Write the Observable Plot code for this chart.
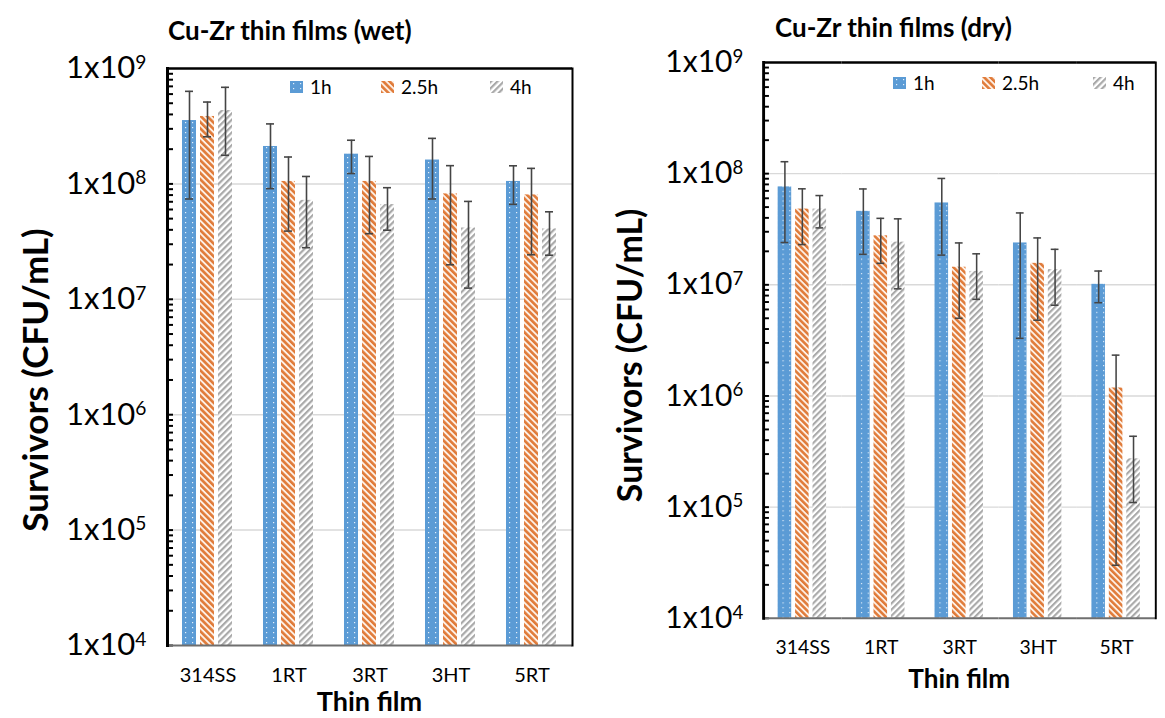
<!DOCTYPE html>
<html><head><meta charset="utf-8">
<script src="https://cdn.jsdelivr.net/npm/d3@7"></script>
<script src="https://cdn.jsdelivr.net/npm/@observablehq/plot@0.6"></script>
<style>
body{margin:0;width:1165px;height:718px;overflow:hidden;background:#fff;font-family:Lato,sans-serif;position:relative}
.panel{position:absolute;top:0}
.title{position:absolute;font-weight:bold;font-size:26px;color:#000;white-space:nowrap;line-height:1}
.legend{position:absolute;font-size:19px;color:#000;white-space:nowrap}
.legend span.item{position:absolute;display:flex;align-items:center;line-height:1}
.legend svg{margin-right:7px}
</style></head>
<body>
<svg width="0" height="0" style="position:absolute">
  <defs>
    <pattern id="pat-1h" patternUnits="userSpaceOnUse" width="7" height="5">
      <rect width="7" height="5" fill="#5b9bd5"/>
      <rect x="3" y="2" width="1.2" height="1.2" fill="#e4effa"/>
    </pattern>
    <pattern id="pat-2_5h" patternUnits="userSpaceOnUse" width="4.5" height="4.5" patternTransform="rotate(-45)">
      <rect width="4.5" height="4.5" fill="#fdf0e6"/>
      <rect width="2.6" height="4.5" fill="#e07b39"/>
    </pattern>
    <pattern id="pat-4h" patternUnits="userSpaceOnUse" width="4.5" height="4.5" patternTransform="rotate(45)">
      <rect width="4.5" height="4.5" fill="#ffffff"/>
      <rect width="2.2" height="4.5" fill="#a9a9a9"/>
    </pattern>
  </defs>
</svg>
<div id="left" class="panel" style="left:0"></div>
<div id="right" class="panel" style="left:583px"></div>
<div class="title" style="left:168px;top:17px">Cu-Zr thin films (wet)</div>
<div class="title" style="left:775px;top:14px">Cu-Zr thin films (dry)</div>
<div id="legL" class="legend"></div>
<div id="legR" class="legend"></div>
<script>
// ---- data ----
const films = ["314SS", "1RT", "3RT", "3HT", "5RT"];
const times = ["1h", "2.5h", "4h"];
const yTicks = [1e4, 1e5, 1e6, 1e7, 1e8, 1e9];
const yLabel = "Survivors (CFU/mL)";
const xLabel = "Thin film";

// wet (CFU/mL) means and error (± sd)
const wet1h     = [3.54e8, 2.11e8, 1.81e8, 1.61e8, 1.05e8];
const wet2_5h   = [3.84e8, 1.05e8, 1.05e8, 8.19e7, 8.03e7];
const wet4h     = [4.32e8, 7.2e7, 6.62e7, 4.15e7, 4.07e7];
const wet1hErr  = [2.8e8, 1.2e8, 5.8e7, 8.7e7, 3.85e7];
const wet2_5hErr= [1.28e8, 6.6e7, 6.8e7, 6.2e7, 5.6e7];
const wet4hErr  = [2.55e8, 4.4e7, 2.65e7, 2.9e7, 1.66e7];

// dry
const dry1h     = [7.6e7, 4.58e7, 5.45e7, 2.38e7, 1.01e7];
const dry2_5h   = [4.8e7, 2.76e7, 1.44e7, 1.56e7, 1.18e6];
const dry4h     = [4.8e7, 2.42e7, 1.32e7, 1.37e7, 2.72e5];
const dry1hErr  = [5.2e7, 2.7e7, 3.6e7, 2.05e7, 3.2e6];
const dry2_5hErr= [2.5e7, 1.2e7, 9.4e6, 1.08e7, 1.15e6];
const dry4hErr  = [1.55e7, 1.5e7, 5.8e6, 7.15e6, 1.62e5];

const patId = t => "pat-" + t.replace(".", "_");
const minorTicks = d3.range(4, 9).flatMap(e => d3.range(1, 10).map(k => k * Math.pow(10, e)));

function makeChart(means, errs, o) {
  const rows = [];
  films.forEach((f, i) => times.forEach((t, j) => rows.push({film: f, time: t, mean: means[j][i], err: errs[j][i]})));
  const plotW = o.width - o.ml - o.mr;
  const facetW = plotW / films.length;
  const plot = Plot.plot({
    width: o.width, height: 718,
    marginLeft: o.ml, marginRight: o.mr, marginTop: o.mt, marginBottom: o.mb,
    style: {fontFamily: "Lato, sans-serif", background: "transparent", color: "#000", overflow: "visible"},
    fx: {domain: films, padding: 0, label: null},
    x: {domain: times, paddingInner: 0.22, paddingOuter: 0.86, axis: null},
    y: {type: "log", domain: [1e4, 1e9], axis: null},
    color: {domain: times, range: times.map(t => `url(#${patId(t)})`)},
    marks: [
      Plot.gridY(yTicks.slice(1, -1), {stroke: "#d9d9d9", strokeOpacity: 1, strokeWidth: 1.5}),
      Plot.barY(rows, {fx: "film", x: "time", y1: 1e4, y2: "mean", fill: "time"}),
      Plot.ruleX(rows, {fx: "film", x: "time", y1: d => d.mean - d.err, y2: d => d.mean + d.err, stroke: "#454545", strokeWidth: 1.6}),
      Plot.tickY(rows, {fx: "film", x: "time", y: d => d.mean + d.err, stroke: "#454545", strokeWidth: 1.6, insetLeft: 3, insetRight: 3}),
      Plot.tickY(rows, {fx: "film", x: "time", y: d => d.mean - d.err, stroke: "#454545", strokeWidth: 1.6, insetLeft: 3, insetRight: 3}),
      Plot.ruleY(minorTicks, {y: d => d, facetAnchor: "left", insetRight: facetW - 6, stroke: "#000", strokeWidth: 2}),
      Plot.ruleY([1e9], {stroke: "#000", strokeWidth: 2.5}),
      Plot.ruleY([1e4], {stroke: "#6f6f6f", strokeWidth: 2}),
      Plot.frame({anchor: "left", facetAnchor: "left", stroke: "#000", strokeWidth: 3}),
      Plot.frame({anchor: "right", facetAnchor: "right", stroke: "#000", strokeWidth: 2}),
      Plot.axisY({anchor: "left", ticks: yTicks, tickSize: 0, tickPadding: o.tp, fontSize: 31,
        tickFormat: d => "1x10" + Math.round(Math.log10(d)), label: null}),
      Plot.axisFx({anchor: "bottom", tickSize: 0, tickPadding: o.xp, fontSize: 20, label: null})
    ]
  });
  const svg = d3.select(plot);
  // superscript exponents
  svg.selectAll('g[aria-label="y-axis tick label"] text').each(function() {
    const s = this.textContent;
    if (!s.startsWith("1x10")) return;
    const exp = s.slice(4);
    this.textContent = "";
    const el = d3.select(this);
    el.append("tspan").text("1x10");
    el.append("tspan").attr("dy", "-0.5em").attr("font-size", "0.62em").text(exp);
  });
  // axis titles
  svg.append("text")
    .attr("transform", `translate(${o.ylx},${o.yly}) rotate(-90)`)
    .attr("text-anchor", "middle").attr("dy", "0.35em")
    .attr("font-family", "Lato, sans-serif").attr("font-weight", "bold").attr("font-size", 35)
    .text(yLabel);
  svg.append("text")
    .attr("transform", `translate(${o.ml + plotW / 2},${o.xly})`)
    .attr("text-anchor", "middle").attr("dy", "0.35em")
    .attr("font-family", "Lato, sans-serif").attr("font-weight", "bold").attr("font-size", 27)
    .text(xLabel);
  return plot;
}

document.getElementById("left").append(makeChart([wet1h, wet2_5h, wet4h], [wet1hErr, wet2_5hErr, wet4hErr],
  {width: 583, ml: 167, mr: 11, mt: 68, mb: 73, tp: 21, xp: 22, ylx: 36, yly: 380, xly: 702}));
document.getElementById("right").append(makeChart([dry1h, dry2_5h, dry4h], [dry1hErr, dry2_5hErr, dry4hErr],
  {width: 601, ml: 186, mr: 10, mt: 64, mb: 80, tp: 21, xp: 23, ylx: 49, yly: 367, xly: 701}));

// legends
function legend(id, xs, top) {
  const box = document.getElementById(id);
  times.forEach((t, i) => {
    const s = document.createElement("span");
    s.className = "item";
    s.style.left = xs[i] + "px";
    s.style.top = top + "px";
    s.innerHTML = `<svg width="13" height="12"><rect width="13" height="12" fill="url(#${patId(t)})"/></svg>${t}`;
    box.append(s);
  });
}
legend("legL", [290, 381, 490], 77);
legend("legR", [893, 982, 1093], 73);
</script>
</body></html>
